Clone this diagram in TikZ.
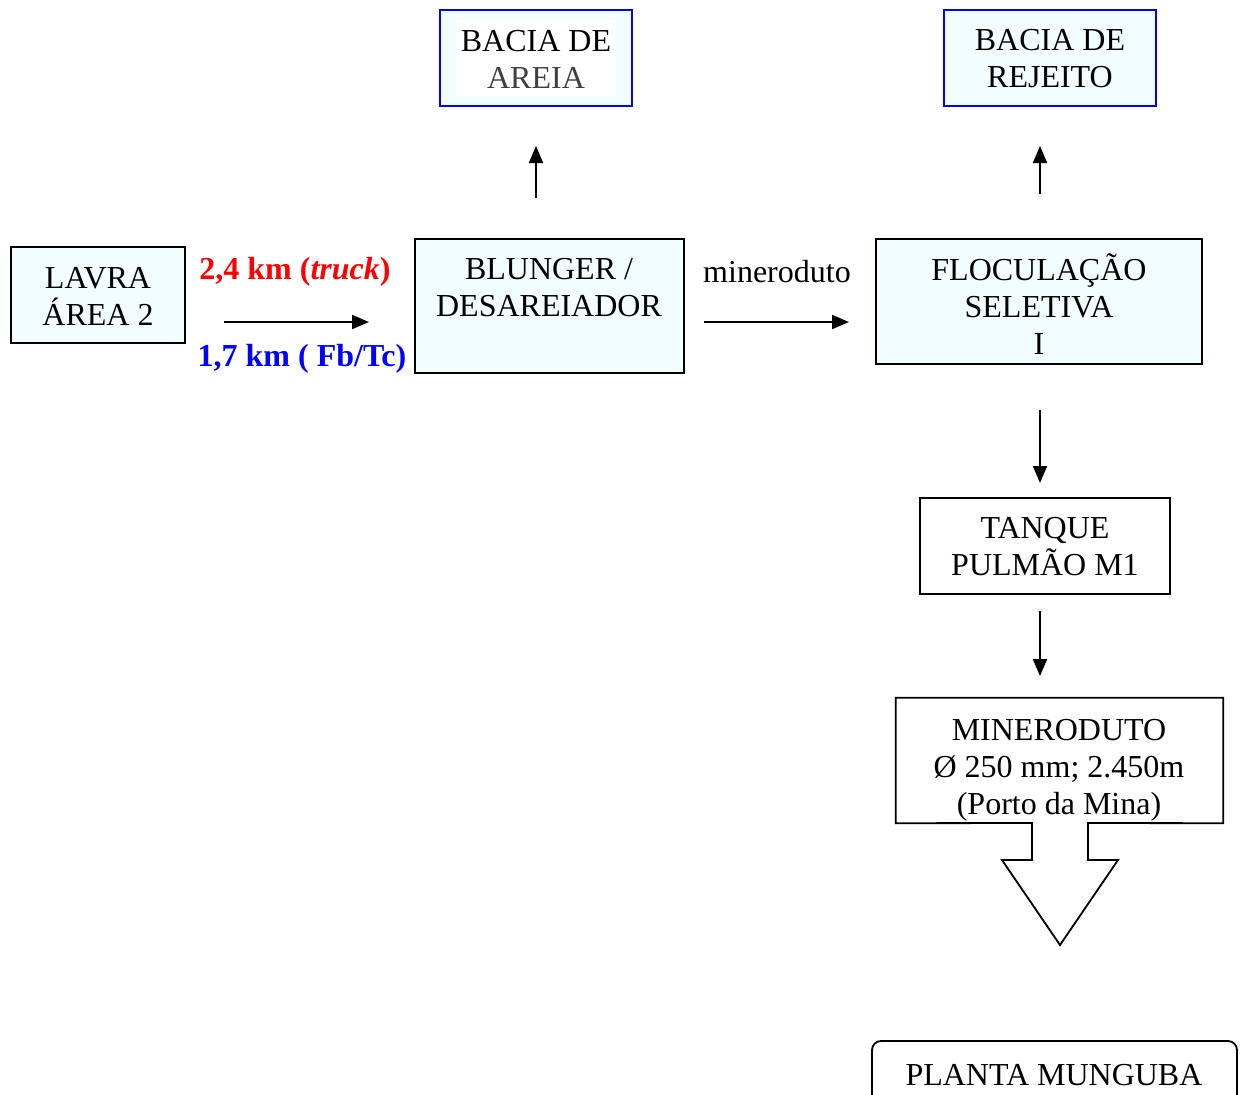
\documentclass[tikz,border=0pt]{standalone}
\usepackage{fontspec}
\setmainfont{Liberation Serif}
\usetikzlibrary{arrows.meta}
\definecolor{boxfill}{RGB}{242,253,255}
\definecolor{myred}{RGB}{255,0,0}
\definecolor{myblue}{RGB}{0,0,255}
\tikzset{
  box/.style={draw=black, line width=1.8pt, fill=boxfill, inner sep=0pt},
  bluebox/.style={draw=myblue, line width=2pt, fill=boxfill, inner sep=0pt},
  txt/.style={align=center, inner sep=0pt, font=\fontsize{32}{37}\selectfont},
  arr/.style={line width=2pt, -{Triangle[length=17pt,width=14pt]}},
}
\begin{document}
\begin{tikzpicture}[x=1pt,y=-1pt]
\useasboundingbox (0,0) rectangle (1240,1095);

% boxes
\node[box, minimum width=174pt, minimum height=96pt] (lavra) at (98,295) {};
\node[txt] (lavrat) at (98,296) {LAVRA\\ÁREA 2};

\node[box, minimum width=269pt, minimum height=134pt] (blunger) at (549.5,306) {};
\node[txt] (blungert) at (549,288) {BLUNGER /\\DESAREIADOR};

\node[box, minimum width=326pt, minimum height=125pt] (floc) at (1039,301.5) {};
\node[txt] (floct) at (1039,304) {FLOCULAÇÃO\\SELETIVA\\I};

\node[bluebox, minimum width=192pt, minimum height=96pt] (bareia) at (536,58) {};
\node[fill=white, minimum width=160pt, minimum height=76pt, inner sep=0pt] (bareiaw) at (536,58) {};
\node[txt] (bareiat) at (536,59) {BACIA DE\\\textcolor{black!75}{AREIA}};

\node[bluebox, minimum width=212pt, minimum height=96pt] (brej) at (1050,58) {};
\node[txt] (brejt) at (1050,59) {BACIA DE\\REJEITO};

\node[box, fill=white, minimum width=250pt, minimum height=96pt] (tanque) at (1045,546) {};
\node[txt] (tanquet) at (1045,547) {TANQUE\\PULMÃO M1};

% mineroduto box with big arrow
\node[minimum width=327pt, minimum height=125pt, inner sep=0pt] (mine) at (1059.5,760.5) {};
\draw[line width=1.8pt, fill=white, line join=miter]
  (mine.south west) -- (mine.north west) -- (mine.north east) -- (mine.south east)
  -- (1088,823) -- (1088,860) -- (1118,860) -- (1060,945) -- (1002,860) -- (1032,860) -- (1032,823) -- cycle;
\node[txt] (minet) at (1059,770) {MINERODUTO\\Ø 250 mm; 2.450m\\(Porto da Mina)};

% planta munguba
\draw[line width=1.8pt, rounded corners=9pt] (872,1115) -- (872,1041) -- (1237,1041) -- (1237,1115);
\node[txt] (planta) at (1054,1075) {PLANTA MUNGUBA};

% labels
\node[txt, text=myred, font=\fontsize{32}{37}\selectfont\bfseries] (lbl1) at (295,272) {2,4 km (\textit{truck})};
\node[txt, text=myblue, font=\fontsize{32}{37}\selectfont\bfseries] (lbl2) at (302,359) {1,7 km ( Fb/Tc)};
\node[txt] (lbl3) at (777,272) {mineroduto};

% arrow end points
\coordinate (a1s) at (224,322); \coordinate (a1e) at (369,322);
\coordinate (a2s) at (704,322); \coordinate (a2e) at (849,322);
\coordinate (a3s) at (536,198); \coordinate (a3e) at (536,146);
\coordinate (a4s) at (1040,194); \coordinate (a4e) at (1040,146);
\coordinate (a5s) at (1040,410); \coordinate (a5e) at (1040,483);
\coordinate (a6s) at (1040,611); \coordinate (a6e) at (1040,676);

\draw[arr] (a1s) -- (a1e);
\draw[arr] (a2s) -- (a2e);
\draw[arr] (a3s) -- (a3e);
\draw[arr] (a4s) -- (a4e);
\draw[arr] (a5s) -- (a5e);
\draw[arr] (a6s) -- (a6e);
\end{tikzpicture}
\end{document}
